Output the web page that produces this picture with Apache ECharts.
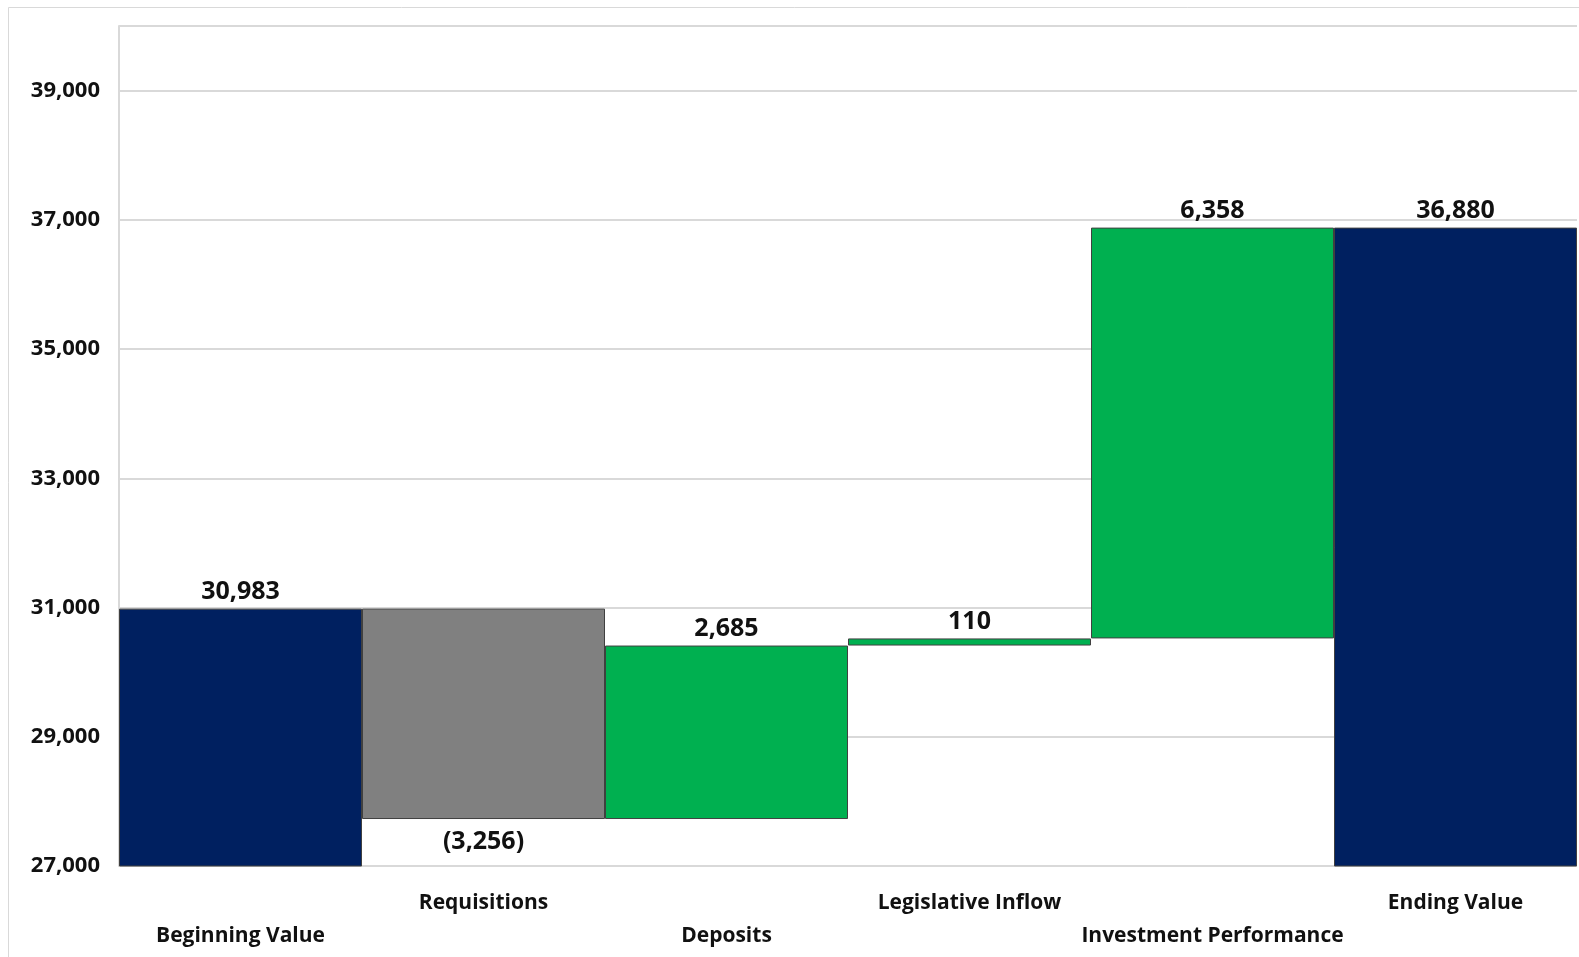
<!DOCTYPE html>
<html>
<head>
<meta charset="utf-8">
<script src="https://cdn.jsdelivr.net/npm/echarts@6/dist/echarts.min.js"></script>
<style>
html,body{margin:0;padding:0;background:#fff;}
#chart{width:1579px;height:957px;}
</style>
</head>
<body>
<div id="chart"></div>
<script>
const categories = ['Beginning Value', 'Requisitions', 'Deposits', 'Legislative Inflow', 'Investment Performance', 'Ending Value'];
const changes = [30983, -3256, 2685, 110, 6358, 36880];
const kinds = ['total', 'change', 'change', 'change', 'change', 'total'];
const yTicks = [27000, 29000, 31000, 33000, 35000, 37000, 39000];

const colors = { total: '#002060', up: '#00B050', down: '#808080' };

// Build waterfall base/visible values from the data
const baseVals = [], barVals = [];
let running = 0;
changes.forEach((v, i) => {
  if (kinds[i] === 'total') {
    baseVals.push(0);
    barVals.push({ value: v, itemStyle: { color: colors.total }, label: { position: 'top' } });
    running = v;
  } else if (v >= 0) {
    baseVals.push(running);
    barVals.push({ value: v, itemStyle: { color: colors.up }, label: { position: 'top' } });
    running += v;
  } else {
    running += v;
    baseVals.push(running);
    barVals.push({ value: -v, itemStyle: { color: colors.down }, label: { position: 'bottom', distance: 10 } });
  }
});

function fmt(n) {
  const s = Math.abs(n).toLocaleString('en-US');
  return n < 0 ? '(' + s + ')' : s;
}

const font = '"Open Sans", "Noto Sans", sans-serif';
const chart = echarts.init(document.getElementById('chart'), null, { renderer: 'canvas' });
chart.setOption({
  animation: false,
  backgroundColor: '#fff',
  graphic: [{
    type: 'rect', shape: { x: 8.5, y: 7.5, width: 1600, height: 1000 },
    style: { fill: 'none', stroke: '#d9d9d9', lineWidth: 1 }, z: -10
  }],
  grid: { left: 119, right: 2, top: 26, bottom: 91 },
  xAxis: {
    type: 'category',
    data: categories,
    axisLine: { show: false },
    axisTick: { show: false },
    axisLabel: {
      interval: 0,
      margin: 21,
      fontFamily: font, fontWeight: 'bold', fontSize: 21, color: '#111',
      lineHeight: 33,
      formatter: (v, i) => (i % 2 === 0 ? '\n' + v : v)
    }
  },
  yAxis: {
    type: 'value',
    min: 27000, max: 40000, interval: 2000,
    axisLine: { show: true, lineStyle: { color: '#d9d9d9', width: 2 } },
    axisTick: { show: false },
    splitLine: { lineStyle: { color: '#d9d9d9', width: 2 } },
    axisLabel: {
      margin: 19,
      fontFamily: font, fontWeight: 'bold', fontSize: 22, color: '#111',
      formatter: v => (yTicks.includes(v) ? v.toLocaleString('en-US') : '')
    }
  },
  series: [
    {
      type: 'bar', stack: 'w', data: baseVals,
      itemStyle: { color: 'transparent', borderWidth: 0 },
      barCategoryGap: 0, silent: true
    },
    {
      type: 'bar', stack: 'w', data: barVals,
      barCategoryGap: 0,
      itemStyle: { borderColor: '#404040', borderWidth: 1 },
      label: {
        show: true, distance: 4,
        fontFamily: font, fontWeight: 'bold', fontSize: 25, color: '#111',
        formatter: p => fmt(changes[p.dataIndex])
      }
    }
  ]
});
</script>
</body>
</html>
